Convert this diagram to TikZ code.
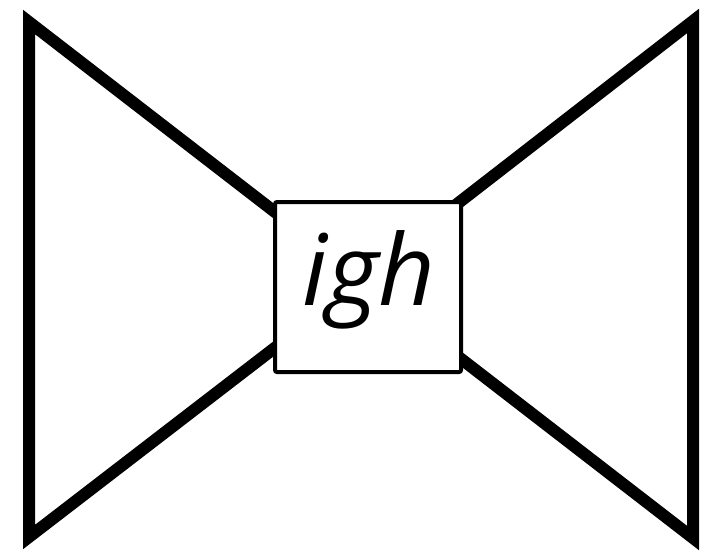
\documentclass[tikz,border=0pt]{standalone}
\usepackage{fontspec}
\newfontfamily\bowfont{Open Sans}
\begin{document}
\begin{tikzpicture}[x=0.75pt,y=0.75pt,yscale=-1,xscale=1]
\useasboundingbox (0,0) rectangle (708,553);

%Shape: Triangle [id:left wing]
\draw [color=black ,line width=9pt ,line join=miter]  (29,22) -- (363,280) -- (29,537) -- cycle ;
%Shape: Triangle [id:right wing]
\draw [color=black ,line width=9pt ,line join=miter]  (693,21) -- (359,280) -- (693,538) -- cycle ;
%Shape: Square [id:knot]
\draw [color=black ,line width=3pt ,fill=white ,rounded corners=1.5pt]  (275,202) rectangle (461,372) ;

% Text Node
\draw (369,305) node [anchor=base][inner sep=0.75pt]  [font={\bowfont\itshape\fontsize{74}{89}\selectfont}] (igh) {igh};

\end{tikzpicture}
\end{document}
